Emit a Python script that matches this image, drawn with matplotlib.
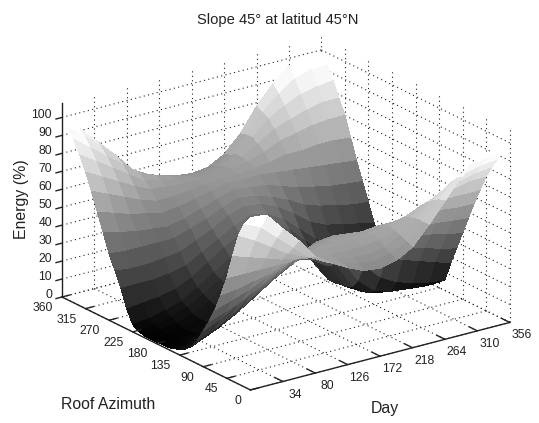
import matplotlib
matplotlib.use("Agg")
import matplotlib.pyplot as plt
import numpy as np
from mpl_toolkits.mplot3d import proj3d

plt.rcParams['font.family'] = ['Liberation Sans', 'DejaVu Sans']

# one row per azimuth, one column per day
days = [-12, 11, 34, 57, 80, 103, 126, 149, 172, 195, 218, 241, 264, 287, 310, 333, 356]
azimuths = [0, 11.25, 22.5, 33.75, 45, 56.25, 67.5, 78.75, 90, 101.25, 112.5, 123.75, 135, 146.25, 157.5, 168.75,
            180, 191.25, 202.5, 213.75, 225, 236.25, 247.5, 258.75, 270, 281.25, 292.5, 303.75, 315, 326.25,
            337.5, 348.75, 360]
energy = [
    [96, 95, 85, 76, 65, 59, 54, 50, 49, 51, 56, 66, 77, 88, 95, 98, 98],
    [91, 87, 79, 71, 63, 58, 55, 52, 51, 53, 57, 66, 76, 85, 91, 93, 94],
    [83, 78, 72, 66, 62, 58, 55, 54, 53, 55, 59, 66, 74, 81, 85, 87, 88],
    [70, 67, 64, 61, 59, 57, 56, 56, 56, 57, 60, 65, 71, 76, 79, 81, 82],
    [56, 56, 56, 56, 56, 58, 58, 58, 58, 59, 61, 64, 68, 71, 73, 75, 75],
    [45, 46, 48, 50, 53, 56, 57, 57, 58, 58, 59, 61, 63, 65, 66, 66, 66],
    [35, 38, 41, 45, 48, 53, 55, 57, 57, 57, 58, 58, 58, 58, 58, 57, 57],
    [27, 30, 34, 39, 43, 49, 53, 55, 56, 55, 54, 53, 52, 50, 49, 48, 47],
    [20, 24, 29, 34, 38, 45, 49, 53, 54, 53, 51, 48, 45, 43, 41, 39, 37],
    [13, 17, 22, 28, 33, 39, 44, 48, 50, 48, 46, 42, 37, 34, 32, 29, 27],
    [8, 12, 17, 22, 28, 34, 39, 43, 46, 44, 41, 36, 30, 26, 23, 20, 17],
    [5, 8, 12, 17, 23, 29, 34, 39, 42, 39, 35, 26, 17, 12, 9, 7, 6],
    [3, 6, 9, 13, 18, 24, 30, 35, 38, 35, 29, 16, 8, 5, 4, 3, 3],
    [2, 3, 6, 10, 15, 21, 27, 32, 34, 32, 26, 11, 5, 3, 3, 2, 2],
    [1, 2, 4, 7, 12, 18, 24, 29, 31, 29, 23, 9, 4, 3, 3, 2, 2],
    [1, 1, 3, 6, 11, 17, 23, 28, 29, 28, 22, 9, 4, 3, 2, 2, 2],
    [1, 1, 2, 5, 10, 17, 23, 27, 28, 27, 22, 8, 3, 3, 2, 2, 2],
    [1, 1, 2, 5, 10, 17, 23, 28, 29, 27, 22, 8, 4, 3, 2, 2, 2],
    [1, 2, 3, 6, 11, 18, 24, 29, 30, 28, 23, 10, 5, 4, 3, 3, 3],
    [2, 3, 5, 8, 13, 19, 25, 30, 32, 30, 25, 14, 7, 5, 4, 4, 4],
    [4, 5, 7, 10, 15, 21, 27, 32, 35, 33, 27, 18, 10, 7, 6, 5, 5],
    [11, 12, 13, 15, 19, 25, 31, 36, 39, 37, 32, 23, 15, 11, 9, 8, 7],
    [21, 21, 21, 22, 24, 29, 34, 39, 43, 41, 36, 28, 20, 16, 14, 12, 11],
    [29, 28, 28, 29, 30, 34, 38, 43, 46, 45, 41, 35, 28, 24, 22, 20, 18],
    [37, 36, 36, 36, 36, 39, 42, 46, 49, 48, 45, 41, 36, 33, 31, 29, 28],
    [47, 45, 43, 42, 41, 43, 46, 49, 52, 51, 50, 47, 44, 42, 40, 39, 38],
    [57, 54, 51, 49, 47, 48, 50, 52, 54, 54, 54, 53, 52, 51, 50, 49, 48],
    [67, 63, 59, 55, 52, 52, 53, 54, 55, 55, 56, 57, 59, 59, 60, 60, 59],
    [76, 71, 66, 61, 57, 56, 55, 55, 55, 56, 58, 61, 65, 67, 69, 70, 70],
    [84, 78, 72, 66, 60, 58, 56, 55, 54, 56, 59, 64, 70, 73, 76, 78, 78],
    [91, 84, 77, 70, 63, 59, 56, 54, 53, 55, 59, 66, 74, 79, 83, 85, 86],
    [96, 89, 81, 73, 63, 58, 55, 53, 52, 53, 57, 66, 76, 84, 90, 93, 93],
    [98, 92, 83, 74, 62, 57, 53, 51, 50, 51, 56, 65, 78, 88, 96, 98, 98],
]
day_ticks = [34, 80, 126, 172, 218, 264, 310, 356]
azimuth_ticks = [0, 45, 90, 135, 180, 225, 270, 315, 360]
energy_ticks = [0, 10, 20, 30, 40, 50, 60, 70, 80, 90, 100]

DAY0, DAY1 = -12, 356
Z1 = 108
W, H = 539, 423
INK = '#222222'

fig = plt.figure(figsize=(W / 100, H / 100), dpi=100)
ax = fig.add_axes([-0.2, -0.2, 1.4, 1.4], projection='3d', proj_type='ortho')
ax.computed_zorder = False
ax.set_axis_off()
ax.view_init(elev=21, azim=-126)
ax.set_xlim(DAY0, DAY1)
ax.set_ylim(0, 360)
ax.set_zlim(0, Z1)
aspect = (321, 321, 208)
ax.set_box_aspect(aspect)


def to_px(x, y, z):
    ax.apply_aspect()
    xs, ys, _ = proj3d.proj_transform(x, y, z, ax.get_proj())
    return ax.transData.transform((xs, ys))


# fit the box so its corners land where they are in the picture
a = to_px(DAY0, 360, 0)
c = to_px(DAY1, 0, 0)
want_a = np.array([62, H - 297])
want_c = np.array([510, H - 318])
ax.set_box_aspect(aspect, zoom=np.hypot(*(want_c - want_a)) / np.hypot(*(c - a)))
a = to_px(DAY0, 360, 0)
shift = want_a - a
ax.set_position([-0.2 + shift[0] / W, -0.2 + shift[1] / H, 1.4, 1.4])

grid = dict(color='#222222', lw=0.8, ls=(0, (1, 3)), zorder=1)
for d in [DAY0] + day_ticks:
    ax.plot([d, d], [360, 0], [0, 0], **grid)
    if d != DAY0:
        ax.plot([d, d], [360, 360], [0, Z1], **grid)
for az in azimuth_ticks:
    ax.plot([DAY0, DAY1], [az, az], [0, 0], **grid)
    if az != 360:
        ax.plot([DAY1, DAY1], [az, az], [0, Z1], **grid)
for e in energy_ticks:
    ax.plot([DAY0, DAY1], [360, 360], [e, e], **grid)
    ax.plot([DAY1, DAY1], [360, 0], [e, e], **grid)

X, Y = np.meshgrid(days, azimuths)
ax.plot_surface(X, Y, np.array(energy, dtype=float), cmap='gray', vmin=0, vmax=92,
                rstride=1, cstride=1, linewidth=0, antialiased=False, shade=False, zorder=2)

axis = dict(color=INK, lw=1.0, zorder=3)
ax.plot([DAY0, DAY0], [360, 360], [0, Z1], **axis)
ax.plot([DAY0, DAY0], [360, 0], [0, 0], **axis)
ax.plot([DAY0, DAY1], [0, 0], [0, 0], **axis)


def tick_label(x, y, z, text, dx, dy, ha):
    xs, ys, _ = proj3d.proj_transform(x, y, z, ax.get_proj())
    ax.annotate(text, (xs, ys), xytext=(dx, dy), textcoords='offset pixels', ha=ha, va='center',
                fontsize=8.7, color=INK, annotation_clip=False, zorder=4)


for e in energy_ticks:
    ax.plot([DAY0 - 8.5, DAY0], [360, 360], [e, e], **axis)
    tick_label(DAY0, 360, e, str(e), -10, 2, 'right')
for az in azimuth_ticks:
    ax.plot([DAY0, DAY0 + 11], [az, az], [0, 0], **axis)
    tick_label(DAY0, az, 0, str(az), -9, -11, 'right')
for d in day_ticks:
    ax.plot([d, d], [0, 15], [0, 0], **axis)
    tick_label(d, 0, 0, str(d), 12, -13, 'center')

fig.text(278 / W, 1 - 20 / H, 'Slope 45° at latitud 45°N', ha='center', va='center', fontsize=10.6, color=INK)
fig.text(22 / W, 1 - 199 / H, 'Energy (%)', rotation=90, ha='center', va='center', fontsize=11.4, color=INK)
fig.text(108 / W, 1 - 404 / H, 'Roof Azimuth', ha='center', va='center', fontsize=11.4, color=INK)
fig.text(385 / W, 1 - 408 / H, 'Day', ha='center', va='center', fontsize=11.4, color=INK)

fig.savefig('out.png', dpi=100)
